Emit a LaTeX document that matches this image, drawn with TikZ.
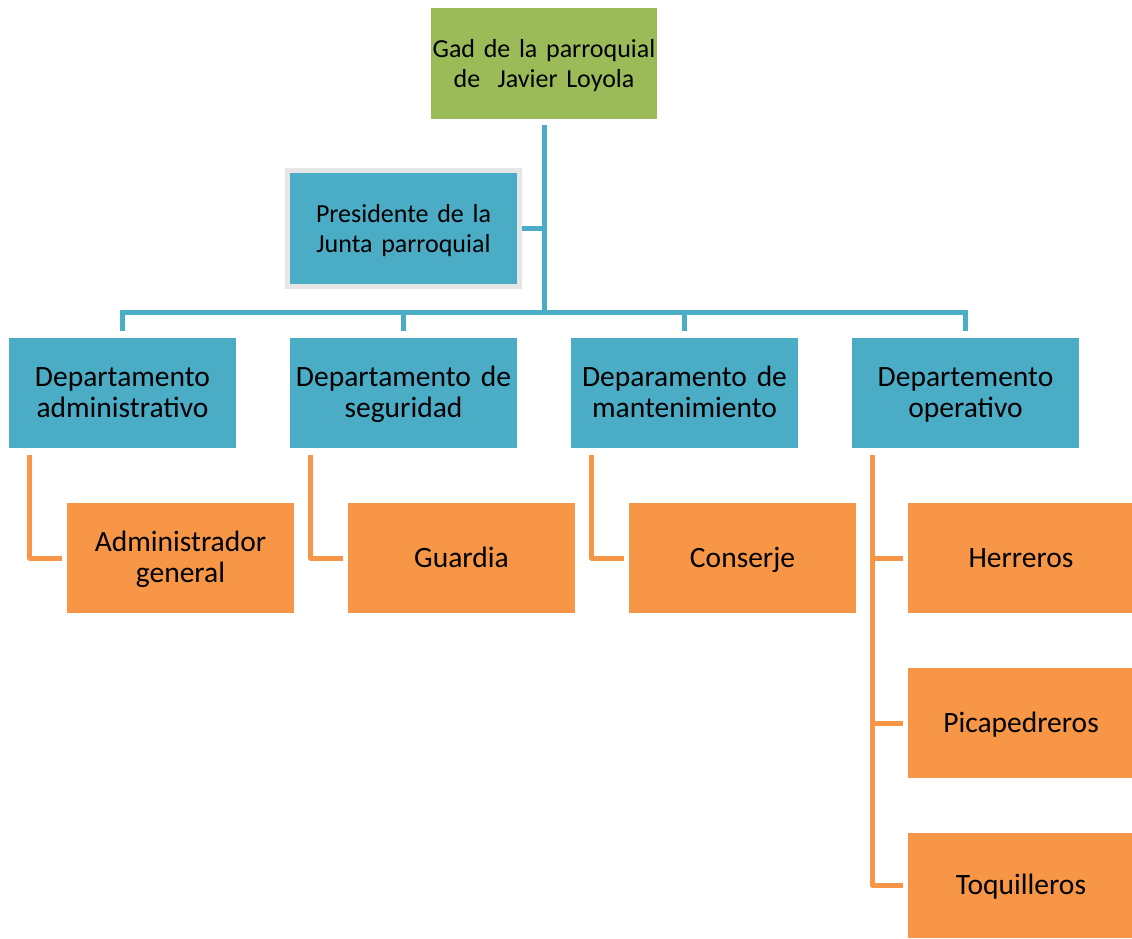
\documentclass[tikz,border=0pt]{standalone}
\usepackage{fontspec}
\setmainfont{Carlito}[WordSpace=0.85]
\usepackage{xcolor}
\usepackage{tikz}
\usetikzlibrary{positioning}
\definecolor{gadgreen}{HTML}{9BBB59}
\definecolor{deptteal}{HTML}{4BACC6}
\definecolor{staffor}{HTML}{F79646}
\definecolor{presgray}{HTML}{E6E6E6}
\newcommand{\boxstrut}{\vrule height 0.8\baselineskip depth 0.2\baselineskip width 0pt}

\tikzset{
  box/.style={inner sep=0pt, text width=226pt, align=center,
              font=\fontsize{29.5}{30.5}\selectfont, text=black,
              execute at begin node=\boxstrut, execute at end node=\boxstrut},
  gadbox/.style={box, fill=gadgreen, minimum width=226pt, minimum height=111pt,
                 font=\fontsize{26}{30}\selectfont},
  deptbox/.style={box, fill=deptteal, minimum width=227pt, minimum height=110pt},
  staffbox/.style={box, fill=staffor, minimum width=227pt, minimum height=110pt},
  presbox/.style={box, fill=deptteal, draw=presgray, line width=5pt,
                  minimum width=232pt, minimum height=116pt, font=\fontsize{26}{30}\selectfont},
  tealline/.style={draw=deptteal, line width=5pt},
  orline/.style={draw=staffor, line width=5pt, line join=round},
}

\begin{document}
\begin{tikzpicture}[x=1pt, y=-1pt]
\useasboundingbox (0,0) rectangle (1132,939);

% top and president
\node[gadbox] (gad) at (544,63.5) {Gad de la parroquial\\de \ Javier Loyola};
\node[presbox] (pres) at (403.5,228.5) {Presidente de la\\Junta parroquial};

% departments
\node[deptbox] (dadm) at (122.5,393) {Departamento\\administrativo};
\node[deptbox] (dseg) at (403.5,393) {Departamento de\\seguridad};
\node[deptbox] (dman) at (684.5,393) {Deparamento de\\mantenimiento};
\node[deptbox] (dope) at (965.5,393) {Departemento\\operativo};

% staff
\node[staffbox] (adm) at (180.5,558) {Administrador\\general};
\node[staffbox] (guard) at (461.5,558) {Guardia};
\node[staffbox] (conserje) at (742.5,558) {Conserje};
\node[staffbox, minimum width=222pt] (herr) at (1021,558) {Herreros};
\node[staffbox, minimum width=222pt] (pica) at (1021,723) {Picapedreros};
\node[staffbox, minimum width=222pt, minimum height=105pt] (toqu) at (1021,885.5) {Toquilleros};

% teal connectors
\coordinate (bar) at (544,312);
\draw[tealline] ([yshift=-6pt]gad.south) -- (bar);
\draw[tealline] (pres.east) -- (gad.south |- pres.east);
\draw[tealline] ([xshift=-2.5pt]dadm.north |- bar) -- ([xshift=2.5pt]dope.north |- bar);
\foreach \d in {dadm,dseg,dman,dope}
  \draw[tealline] (\d.north |- bar) -- ([yshift=7pt]\d.north);

% orange connectors
\draw[orline] ([xshift=21pt,yshift=-7pt]dadm.south west) |- ([xshift=-5pt]adm.west);
\draw[orline] ([xshift=21pt,yshift=-7pt]dseg.south west) |- ([xshift=-5pt]guard.west);
\draw[orline] ([xshift=21pt,yshift=-7pt]dman.south west) |- ([xshift=-5pt]conserje.west);
\coordinate (opv) at ([xshift=21pt,yshift=-7pt]dope.south west);
\draw[orline] (opv) |- ([xshift=-5pt]toqu.west);
\draw[orline] (opv |- herr.west) -- ([xshift=-5pt]herr.west);
\draw[orline] (opv |- pica.west) -- ([xshift=-5pt]pica.west);
\end{tikzpicture}
\end{document}
